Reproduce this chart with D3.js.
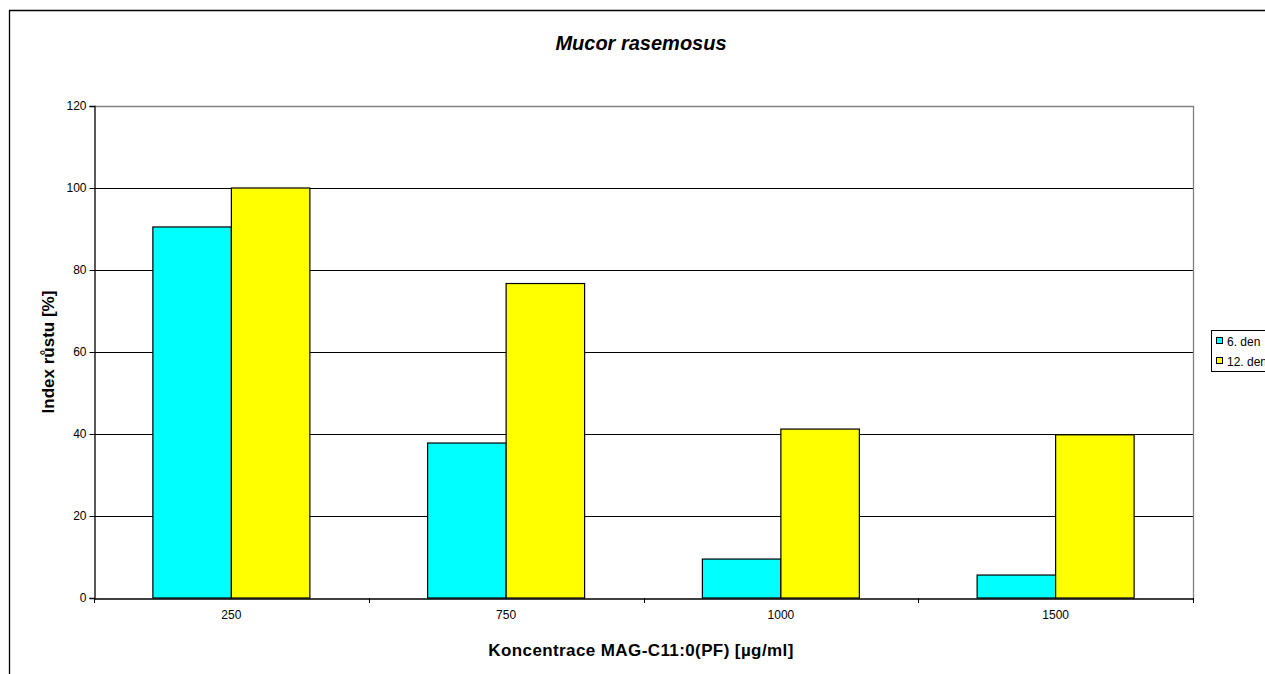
<!DOCTYPE html>
<html><head><meta charset="utf-8">
<script src="https://cdn.jsdelivr.net/npm/d3@7"></script>
<style>body{margin:0;background:#fff;overflow:hidden;} svg{display:block;font-family:"Liberation Sans",Arial,sans-serif;}</style>
</head><body>
<script>
const categories = ["250","750","1000","1500"];
const seriesNames = ["6. den","12. den"];
const day6 = [90.5, 37.8, 9.5, 5.6];
const day12 = [100, 76.7, 41.2, 39.8];
const yTicks = [0,20,40,60,80,100,120];
const colors = ["#00FFFF","#FFFF00"];

(function(){
const W=1265,H=674;
const svg=d3.select("body").append("svg").attr("width",W).attr("height",H);
svg.append("path").attr("d",`M9.5,${H}V10.5H${W}`)
  .attr("fill","none").attr("stroke","#000").attr("stroke-width",1.3);

const pL=94, pR=1193, pT=106, pB=598;
const x0=d3.scaleBand().domain(categories).range([pL,pR]).padding(0);
const barW=x0.bandwidth()/3.5;
const x1=d3.scaleBand().domain(seriesNames).range([0,barW*2]);
const y=d3.scaleLinear().domain([0,120]).range([pB,pT]);

svg.append("g").selectAll("line").data(yTicks.filter(d=>d>0&&d<120)).join("line")
  .attr("x1",pL).attr("x2",pR).attr("y1",d=>Math.round(y(d))+0.5).attr("y2",d=>Math.round(y(d))+0.5)
  .attr("stroke","#000").attr("stroke-width",1);
svg.append("path").attr("d",`M${pL},${pT+0.5}H${pR+0.5}V${pB}`).attr("fill","none").attr("stroke","#808080").attr("stroke-width",1.3);

const series=[day6,day12];
const g=svg.append("g");
categories.forEach((c,i)=>{
  const gx=x0(c)+(x0.bandwidth()-barW*2)/2;
  seriesNames.forEach((s,j)=>{
    g.append("rect").attr("x",gx+x1(s)).attr("y",y(series[j][i]))
      .attr("width",x1.bandwidth()).attr("height",pB-y(series[j][i]))
      .attr("fill",colors[j]).attr("stroke","#000").attr("stroke-width",1.2);
  });
});

const yAxis=d3.axisLeft(y).tickValues(yTicks).tickSize(5).tickPadding(3);
const ya=svg.append("g").attr("transform",`translate(${pL+0.5},0)`).call(yAxis);
ya.select(".domain").attr("stroke","#000").attr("stroke-width",1.3);
ya.selectAll("text").attr("font-size",12).attr("fill","#000").attr("font-family","Liberation Sans, Arial");
const xa=svg.append("g").attr("transform",`translate(0,${pB+0.5})`)
  .call(d3.axisBottom(x0).tickSize(0).tickPadding(12));
xa.select(".domain").attr("stroke","#000").attr("stroke-width",1.3);
xa.selectAll("text").attr("font-size",12).attr("fill","#000").attr("font-family","Liberation Sans, Arial");
const bounds=categories.map(c=>x0(c)).concat([pR]);
svg.append("g").selectAll("line").data(bounds).join("line")
  .attr("x1",d=>Math.round(d)+0.5).attr("x2",d=>Math.round(d)+0.5).attr("y1",pB).attr("y2",pB+5)
  .attr("stroke","#000");

svg.append("text").attr("x",641).attr("y",50).attr("text-anchor","middle")
  .attr("font-size",20).attr("font-weight","bold").attr("font-style","italic").text("Mucor rasemosus");
svg.append("text").attr("x",641).attr("y",656).attr("text-anchor","middle")
  .attr("font-size",17).attr("font-weight","bold").attr("letter-spacing",0.4).text("Koncentrace MAG-C11:0(PF) [µg/ml]");
svg.append("text").attr("transform",`translate(54,${(pT+pB)/2}) rotate(-90)`).attr("text-anchor","middle")
  .attr("font-size",17).attr("font-weight","bold").text("Index růstu [%]");

const lg=svg.append("g");
lg.append("rect").attr("x",1211.5).attr("y",330.5).attr("width",80).attr("height",41)
  .attr("fill","#fff").attr("stroke","#000").attr("stroke-width",1);
seriesNames.forEach((s,j)=>{
  const cy=341+j*20;
  lg.append("rect").attr("x",1216.5).attr("y",cy-3.5).attr("width",6).attr("height",6)
    .attr("fill",colors[j]).attr("stroke","#000").attr("stroke-width",1);
  lg.append("text").attr("x",1227).attr("y",cy+4.5).attr("font-size",12).text(s);
});
})();
</script>
</body></html>
